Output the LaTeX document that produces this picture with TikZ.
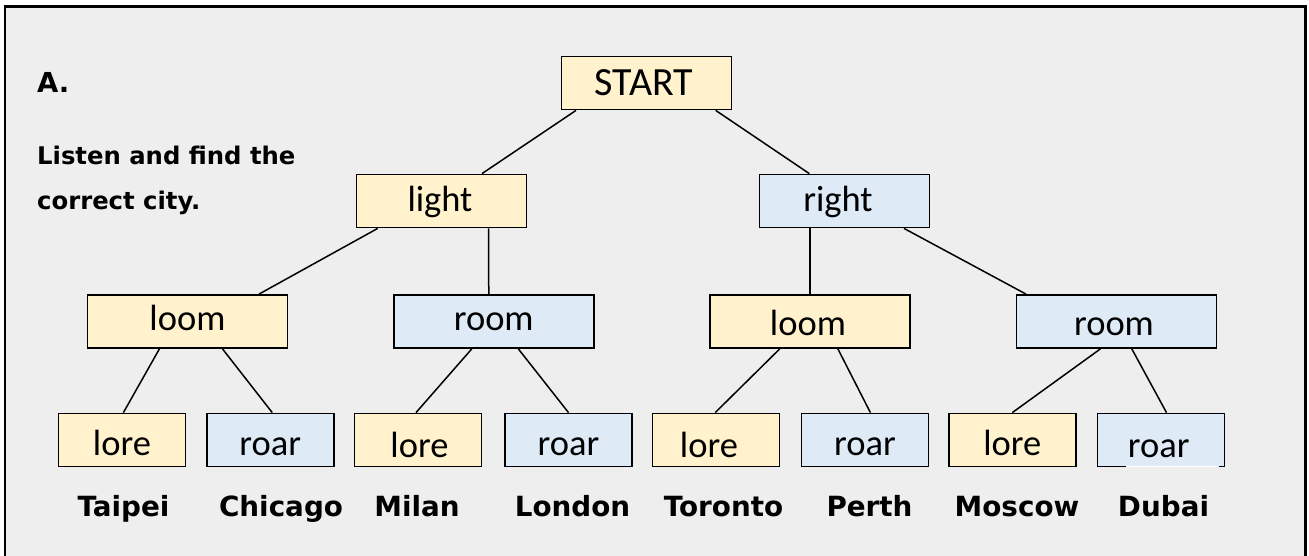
\documentclass[tikz,border=0pt]{standalone}
\usepackage{fontspec}
\setmainfont{Carlito}
\newfontfamily\labfont{DejaVu Sans}
\definecolor{bg}{HTML}{EEEEEE}
\definecolor{yel}{HTML}{FFF2CC}
\definecolor{blu}{HTML}{DEEBF7}
\begin{document}
\begin{tikzpicture}[x=1pt,y=-1pt,
  box/.style={draw=black, line width=1.8pt, inner sep=0pt, minimum height=53pt,
    font=\fontsize{36.5}{40}\selectfont},
  topbox/.style={box, minimum width=170pt},
  midbox/.style={box, minimum width=200pt},
  leafbox/.style={box, minimum width=127pt},
  bsl/.style={text height=#1pt, text depth=0pt},
  ybox/.style={fill=yel},
  bbox/.style={fill=blu},
  link/.style={line width=1.5pt},
  city/.style={font=\labfont\bfseries\fontsize{27.8}{30}\selectfont, anchor=base, inner sep=0pt},
  lefttext/.style={anchor=base west, inner sep=0pt},
]
\useasboundingbox (0,0) rectangle (1309,555);
\fill[white] (0,0) rectangle (1309,555);
\begin{scope}
  \clip (0,0) rectangle (1309,555);
  \draw[line width=2.5pt, fill=bg] (5,6.5) rectangle (1305.5,600);
\end{scope}

% left texts
\node[lefttext, font=\labfont\bfseries\fontsize{27.5}{30}\selectfont] (titleA) at (37,92.7) {A.};
\node[lefttext, font=\labfont\bfseries\fontsize{24.3}{28}\selectfont] (instr1) at (37,164) {Listen and find the};
\node[lefttext, font=\labfont\bfseries\fontsize{24.3}{28}\selectfont] (instr2) at (37,209.5) {correct city.};

% tree boxes
\node[topbox, ybox, bsl=24, font=\fontsize{40}{44}\selectfont] (start) at (646.5,83) {START\hspace*{5pt}};
\node[topbox, ybox, bsl=21.4] (light) at (441.5,201) {light\hspace*{3pt}};
\node[topbox, bbox, bsl=21.4] (right) at (844.5,201) {right\hspace*{13pt}};

\node[midbox, ybox, bsl=18.4] (loomL) at (187.5,321.5) {loom};
\node[midbox, bbox, bsl=18.4] (roomL) at (493.75,321.5) {room};
\node[midbox, ybox, bsl=27.6] (loomR) at (810,321.5) {loom\hspace*{4pt}};
\node[midbox, bbox, bsl=27.6] (roomR) at (1116.5,321.5) {room\hspace*{5pt}};

\node[leafbox, ybox, bsl=30] (l1) at (122,440) {lore};
\node[leafbox, bbox, bsl=30] (r2) at (270.25,440) {roar};
\node[leafbox, ybox, bsl=34.6] (l3) at (418,440) {\hspace*{3pt}lore};
\node[leafbox, bbox, bsl=30] (r4) at (568.5,440) {roar};
\node[leafbox, ybox, bsl=34.6] (l5) at (716,440) {lore\hspace*{14pt}};
\node[leafbox, bbox, bsl=30] (r6) at (865,440) {roar};
\node[leafbox, ybox, bsl=30] (l7) at (1012.3,440) {lore};
\node[leafbox, bbox, bsl=34.6] (r8) at (1161,440) {roar\hspace*{4.6pt}};
\draw[white, line width=1.1pt] ([xshift=-35pt, yshift=0.5pt]r8.south) -- ([xshift=58pt, yshift=0.5pt]r8.south);

% connectors
\draw[link] ([xshift=-70.5pt]start.south) -- ([xshift=40.5pt]light.north);
\draw[link] ([xshift=69.2pt]start.south) -- ([xshift=-35.2pt]right.north);
\draw[link] ([xshift=-63.8pt]light.south) -- ([xshift=71.5pt]loomL.north);
\draw[link] ([xshift=47.2pt]light.south) -- ([xshift=-5pt]roomL.north);
\draw[link] ([xshift=-34.5pt]right.south) -- (loomR.north);
\draw[link] ([xshift=59.5pt]right.south) -- ([xshift=-90.5pt]roomR.north);
\draw[link] ([xshift=-28.1pt]loomL.south) -- ([xshift=1.4pt]l1.north);
\draw[link] ([xshift=35pt]loomL.south) -- ([xshift=2pt]r2.north);
\draw[link] ([xshift=-22pt]roomL.south) -- ([xshift=-2pt]l3.north);
\draw[link] ([xshift=24.6pt]roomL.south) -- (r4.north);
\draw[link] ([xshift=-30.3pt]loomR.south) -- ([xshift=-0.8pt]l5.north);
\draw[link] ([xshift=27.9pt]loomR.south) -- ([xshift=5.4pt]r6.north);
\draw[link] ([xshift=-16.1pt]roomR.south) -- (l7.north);
\draw[link] ([xshift=15.3pt]roomR.south) -- ([xshift=5.5pt]r8.north);

% cities
\node[city] (c1) at (123.5,516.7) {Taipei};
\node[city] (c2) at (281,516.7) {Chicago};
\node[city] (c3) at (417,516.7) {Milan};
\node[city] (c4) at (572.5,516.7) {London};
\node[city] (c5) at (723.5,516.7) {Toronto};
\node[city] (c6) at (869.5,516.7) {Perth};
\node[city] (c7) at (1017,516.7) {Moscow};
\node[city] (c8) at (1163.5,516.7) {Dubai};
\end{tikzpicture}
\end{document}
